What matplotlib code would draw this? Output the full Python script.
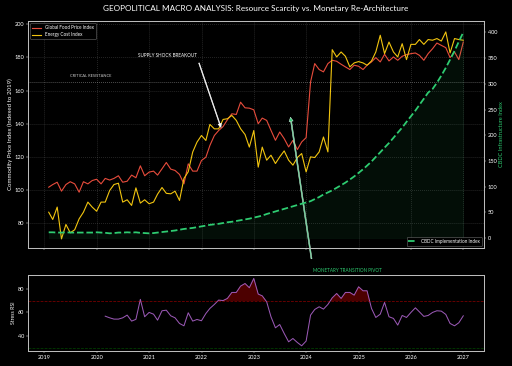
import numpy as np
import pandas as pd
import matplotlib
matplotlib.use("Agg")
import matplotlib.pyplot as plt
import matplotlib.dates as mdates

plt.style.use("dark_background")
plt.rcParams['font.family'] = ['Lato', 'DejaVu Sans']

dates = pd.date_range("2019-01-31", periods=96, freq="ME")

food = [101.7, 103.3, 104.7, 99.3, 103.3, 105.0, 103.7, 98.7, 105.0, 103.7,
        105.7, 106.5, 103.7, 107.0, 106.0, 107.0, 108.6, 104.7, 105.3, 109.0,
        107.4, 114.6, 108.6, 110.8, 111.4, 109.0, 112.8, 116.6, 112.6, 111.8,
        109.4, 103.7, 115.8, 111.4, 111.4, 117.8, 119.8, 126.9, 132.9, 135.9,
        138.3, 142.4, 146.0, 145.6, 153.0, 149.6, 149.4, 148.4, 140.0, 143.4,
        142.0, 136.0, 130.0, 135.0, 131.0, 126.0, 130.0, 124.4, 129.0, 131.6,
        165.2, 176.3, 172.7, 171.3, 176.3, 178.3, 177.7, 175.9, 174.3, 172.7,
        175.3, 174.7, 172.7, 175.3, 177.3, 179.9, 177.3, 181.9, 177.9, 180.3,
        178.3, 180.7, 181.7, 182.3, 182.7, 181.3, 178.3, 182.3, 185.3, 188.7,
        187.3, 185.9, 179.9, 183.3, 178.7, 189.3]

energy = [86.6, 82.2, 89.7, 70.5, 79.2, 74.2, 76.0, 82.6, 86.6, 92.7,
          89.7, 87.2, 92.7, 92.7, 99.7, 103.3, 104.1, 92.7, 94.1, 90.7,
          101.3, 92.1, 94.1, 91.7, 92.7, 97.5, 101.5, 98.0, 97.7, 99.3,
          93.7, 107.0, 111.0, 122.9, 128.9, 132.9, 129.9, 139.6, 136.9, 136.9,
          142.6, 143.0, 145.0, 142.0, 137.0, 133.5, 125.9, 135.9, 113.8, 125.9,
          118.0, 121.0, 116.0, 120.0, 123.6, 118.0, 115.0, 119.6, 122.0, 110.9,
          120.0, 119.6, 123.0, 132.0, 123.0, 184.7, 180.3, 183.3, 180.7, 174.3,
          176.7, 177.5, 176.7, 175.3, 177.9, 183.3, 193.4, 182.3, 189.3, 183.3,
          180.3, 188.3, 178.7, 187.9, 187.9, 190.8, 187.9, 190.8, 190.4, 191.4,
          189.9, 195.4, 182.7, 191.4, 190.8, 190.4]

cbdc = [11.5, 11.5, 11.0, 11.0, 11.5, 11.0, 11.0, 11.0, 11.0, 11.0,
        11.0, 11.5, 11.0, 10.5, 9.5, 10.0, 11.0, 11.0, 11.5, 11.0,
        11.5, 10.5, 10.0, 9.5, 10.0, 11.0, 12.0, 13.0, 14.0, 15.0,
        16.5, 18.0, 19.0, 20.0, 21.5, 23.0, 24.5, 26.0, 27.0, 28.0,
        29.5, 31.0, 32.0, 33.5, 35.0, 36.5, 38.0, 40.0, 42.0, 44.0,
        47.0, 49.5, 52.0, 54.5, 57.0, 59.5, 62.0, 64.5, 67.0, 69.5,
        72.0, 76.0, 80.0, 85.0, 89.0, 93.0, 98.0, 103.0, 108.0, 114.0,
        120.0, 127.0, 134.0, 141.0, 149.0, 158.0, 167.0, 176.0, 185.0, 195.0,
        205.0, 215.0, 226.0, 237.0, 248.0, 259.0, 271.0, 283.0, 290.0, 302.0,
        316.0, 331.0, 347.0, 364.0, 382.0, 400.0]

rsi = [np.nan] * 13 + [
    56.7, 55.3, 54.2, 54.2, 55.3, 57.6, 52.5, 54.0, 71.0, 56.2,
    59.9, 58.4, 53.3, 61.3, 61.8, 57.0, 55.3, 50.5, 48.5, 59.6,
    52.5, 53.9, 52.8, 59.0, 63.3, 66.7, 70.4, 70.0, 71.8, 76.9,
    76.9, 82.3, 84.5, 80.9, 88.8, 75.5, 74.0, 68.9, 56.2, 46.8,
    49.6, 42.0, 34.9, 37.7, 34.3, 31.5, 35.5, 57.6, 62.4, 64.7,
    62.7, 66.7, 72.3, 76.0, 71.8, 76.9, 76.9, 74.6, 81.7, 78.3,
    78.3, 63.3, 55.6, 58.4, 68.4, 56.2, 54.8, 49.1, 57.3, 55.6,
    59.9, 63.8, 60.4, 56.5, 57.3, 59.9, 61.3, 61.0, 58.2, 50.5,
    48.5, 51.1, 57.0]
rsi = np.array(rsi)

RED = '#e74c3c'
YEL = '#f1c40f'
GRN = '#2ecc71'
PUR = '#9b59b6'

DPI = 512 / 14
fig = plt.figure(figsize=(14, 366 / DPI), dpi=DPI)
fig.patch.set_facecolor('black')

ax1 = fig.add_axes([28 / 512, 1 - 248 / 366, 456 / 512, 227 / 366])
ax3 = fig.add_axes([28 / 512, 1 - 351 / 366, 456 / 512, 76 / 366], sharex=ax1)

for a in (ax1, ax3):
    a.set_facecolor('black')
    for s in a.spines.values():
        s.set_color('#bbbbbb')
        s.set_linewidth(2)

ax1.plot(dates, food, color=RED, lw=2.2, label='Global Food Price Index')
ax1.plot(dates, energy, color=YEL, lw=2.2, label='Energy Cost Index')
ax1.set_ylim(65, 202)
ax1.set_ylabel('Commodity Price Index (Indexed to 2019)', fontsize=12)
ax1.grid(True, linestyle=':', color='gray', alpha=0.45, lw=1.5)
ax1.tick_params(labelsize=11)
plt.setp(ax1.get_xticklabels(), visible=False)

ax1.axhline(165, color='white', linestyle=':', alpha=0.5, lw=1.5)
ax1.text(pd.Timestamp('2019-07-01'), 168.8, 'CRITICAL RESISTANCE',
         fontsize=8, color='white', alpha=0.8, va='center', ha='left')

leg1 = ax1.legend(loc='upper left', fontsize=9, facecolor='black',
                  edgecolor='gray', framealpha=0.9)

ax2 = ax1.twinx()
ax2.plot(dates, cbdc, color=GRN, lw=3.5, linestyle='--',
         label='CBDC Implementation Index')
ax2.fill_between(dates, cbdc, 0, color=GRN, alpha=0.07)
ax2.set_ylim(-19, 422)
ax2.set_ylabel('CBDC Infrastructure Index', fontsize=11, color=GRN)
ax2.tick_params(labelsize=11)
for s in ax2.spines.values():
    s.set_color('#bbbbbb')
    s.set_linewidth(2)
ax2.legend(loc='lower right', fontsize=9, facecolor='black',
           edgecolor='gray', framealpha=0.9)

ax1.annotate('SUPPLY SHOCK BREAKOUT',
             xy=(pd.Timestamp('2022-05-25'), 135.5),
             xytext=(pd.Timestamp('2021-05-11'), 181),
             fontsize=9, color='white', ha='center', va='center',
             arrowprops=dict(facecolor='white', shrink=0.05, width=1.5,
                             headwidth=7, headlength=8))

ax1.annotate('MONETARY TRANSITION PIVOT',
             xy=(pd.Timestamp('2023-09-05'), 148.7),
             xytext=(pd.Timestamp('2024-10-13'), 51.6),
             fontsize=9, color=GRN, ha='center', va='center',
             annotation_clip=False,
             arrowprops=dict(facecolor=GRN, edgecolor='#d8f5e6', shrink=0.05,
                             width=2, headwidth=8, headlength=8))

ax3.plot(dates, rsi, color=PUR, lw=2)
ax3.axhline(70, color='red', linestyle='--', alpha=0.5, lw=1.5)
ax3.axhline(30, color='green', linestyle='--', alpha=0.5, lw=1.5)
ax3.fill_between(dates, rsi, 70, where=(rsi >= 70), color='red', alpha=0.3,
                 interpolate=True)
ax3.set_ylabel('Stress RSI', fontsize=10)
ax3.tick_params(labelsize=11)
ax3.xaxis.set_major_locator(mdates.YearLocator())
ax3.xaxis.set_major_formatter(mdates.DateFormatter('%Y'))

fig.text(0.5, 1 - 9 / 366,
         'GEOPOLITICAL MACRO ANALYSIS: Resource Scarcity vs. Monetary Re-Architecture',
         ha='center', va='center', fontsize=16, color='white')

fig.savefig('out.png', dpi=DPI, facecolor='black')
